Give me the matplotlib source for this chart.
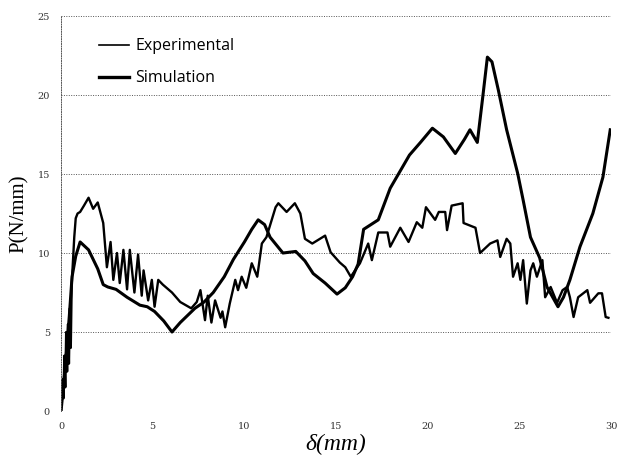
import matplotlib
matplotlib.use("Agg")
import matplotlib.pyplot as plt

# simulation curve (smooth)
sim_x = [0.0, 0.15, 0.3, 0.45, 0.6, 0.8, 1.04, 1.5, 2.0, 2.3, 2.55, 3.0, 3.6,
         4.3, 4.7, 5.1, 5.6, 6.05, 6.5, 7.3, 7.8, 8.3, 8.9, 9.4, 10.0, 10.4,
         10.75, 11.1, 11.4, 12.1, 12.8, 13.3, 13.75, 14.4, 15.05, 15.5, 15.9,
         16.2, 16.5, 17.3, 17.95, 18.5, 19.0, 19.6, 20.25, 20.85, 21.5, 22.0,
         22.3, 22.7, 23.0, 23.25, 23.5, 23.85, 24.3, 24.9, 25.2, 25.6, 26.1,
         26.5, 27.1, 27.4, 27.75, 28.3, 29.0, 29.55, 29.95]
sim_y = [0.0, 1.8, 3.8, 6.0, 8.5, 9.8, 10.7, 10.2, 9.0, 8.0, 7.85, 7.7, 7.2,
         6.7, 6.6, 6.3, 5.7, 5.0, 5.6, 6.5, 6.9, 7.5, 8.5, 9.6, 10.7, 11.5,
         12.1, 11.8, 11.0, 10.0, 10.1, 9.5, 8.7, 8.1, 7.4, 7.8, 8.5, 9.3,
         11.5, 12.1, 14.1, 15.2, 16.2, 17.0, 17.9, 17.35, 16.3, 17.2, 17.8,
         17.0, 19.9, 22.4, 22.1, 20.3, 17.8, 15.05, 13.35, 11.0, 9.7, 7.85,
         6.6, 7.2, 8.3, 10.4, 12.5, 14.8, 17.8]

# experimental curve (noisy)
exp_x = [0.0, 0.08, 0.13, 0.18, 0.23, 0.28, 0.33, 0.38, 0.43, 0.48, 0.53,
         0.58, 0.65, 0.72, 0.8, 0.9, 1.04, 1.25, 1.5, 1.75, 2.0, 2.3, 2.5,
         2.7, 2.85, 3.05, 3.2, 3.4, 3.6, 3.75, 4.0, 4.2, 4.4, 4.5, 4.75, 4.95,
         5.1, 5.3, 5.55, 5.7, 6.05, 6.5, 7.1, 7.4, 7.6, 7.85, 8.0, 8.2, 8.4,
         8.7, 8.8, 8.95, 9.2, 9.5, 9.65, 9.85, 10.1, 10.4, 10.7, 10.95, 11.2,
         11.7, 11.85, 12.3, 12.75, 13.05, 13.3, 13.7, 14.4, 14.7, 15.2, 15.5,
         15.8, 16.3, 16.75, 16.95, 17.3, 17.8, 17.95, 18.5, 18.95, 19.4, 19.7,
         19.9, 20.4, 20.6, 20.95, 21.05, 21.3, 21.9, 21.95, 22.6, 22.85, 23.4,
         23.8, 23.95, 24.3, 24.5, 24.65, 24.9, 25.05, 25.2, 25.4, 25.6, 25.75,
         25.95, 26.25, 26.4, 26.7, 27.05, 27.35, 27.6, 27.75, 27.95, 28.2,
         28.7, 28.85, 29.3, 29.5, 29.7, 29.85]
exp_y = [0.0, 2.0, 0.8, 3.5, 1.5, 5.0, 2.5, 5.5, 3.0, 6.5, 4.0, 8.0, 9.5,
         11.0, 12.2, 12.5, 12.6, 13.0, 13.5, 12.8, 13.2, 11.9, 9.1, 10.7, 8.3,
         10.0, 8.1, 10.2, 7.7, 10.2, 7.5, 9.9, 7.3, 8.9, 7.0, 8.3, 6.6, 8.3,
         8.0, 7.85, 7.5, 6.9, 6.5, 6.9, 7.65, 5.75, 7.3, 5.6, 7.0, 5.9, 6.3,
         5.3, 6.8, 8.3, 7.65, 8.5, 7.8, 9.35, 8.5, 10.6, 11.0, 12.9, 13.15,
         12.6, 13.15, 12.5, 10.9, 10.6, 11.1, 10.05, 9.4, 9.1, 8.5, 9.35, 10.6,
         9.55, 11.3, 11.3, 10.4, 11.6, 10.7, 11.95, 11.6, 12.9, 12.1, 12.6,
         12.6, 11.45, 13.0, 13.15, 11.9, 11.6, 10.0, 10.6, 10.8, 9.75, 10.9,
         10.6, 8.5, 9.35, 8.3, 9.55, 6.8, 8.9, 9.35, 8.5, 9.55, 7.2, 7.85,
         6.85, 7.65, 7.85, 7.2, 5.95, 7.2, 7.65, 6.85, 7.45, 7.45, 5.95, 5.9]

y_ticks = [0, 5, 10, 15, 20, 25]
x_ticks = [0, 5, 10, 15, 20, 25, 30]


def main():
    fig = plt.figure(figsize=(6.23, 4.70), dpi=100)
    ax = fig.add_axes([0.098, 0.1255, 0.883, 0.8404])

    ax.plot(exp_x, exp_y, color="black", linewidth=1.7,
            label="Experimental")
    ax.plot(sim_x, sim_y, color="black", linewidth=2.2,
            label="Simulation")

    ax.set_xlim(0, 30)
    ax.set_ylim(0, 25)
    ax.set_xticks(x_ticks)
    ax.set_yticks(y_ticks)
    ax.tick_params(length=0, labelsize=7, colors="#333333", pad=8)
    for lab in ax.get_xticklabels() + ax.get_yticklabels():
        lab.set_family("DejaVu Serif")

    ax.yaxis.grid(True, linestyle=(0, (1, 1.5)), color="#555555",
                  linewidth=0.7)
    for side in ["top", "right", "bottom"]:
        ax.spines[side].set_visible(False)
    ax.spines["left"].set_linestyle((0, (1, 1.5)))
    ax.spines["left"].set_linewidth(0.7)
    ax.spines["left"].set_color("#555555")

    ax.set_ylabel("P(N/mm)", family="Liberation Serif", fontsize=15,
                  labelpad=6)
    ax.set_xlabel("δ(mm)", family="Liberation Serif",
                  fontsize=17, style="italic", labelpad=2)

    leg = ax.legend(loc="upper left", bbox_to_anchor=(0.042, 0.98),
                    frameon=False, handlelength=1.9, labelspacing=1.0,
                    handletextpad=0.4,
                    prop={"family": "Open Sans", "size": 11.5})
    leg.get_lines()[0].set_linewidth(1.2)
    leg.get_lines()[1].set_linewidth(2.4)

    fig.savefig("out.png", dpi=100)
    plt.close(fig)


if __name__ == "__main__":
    main()
